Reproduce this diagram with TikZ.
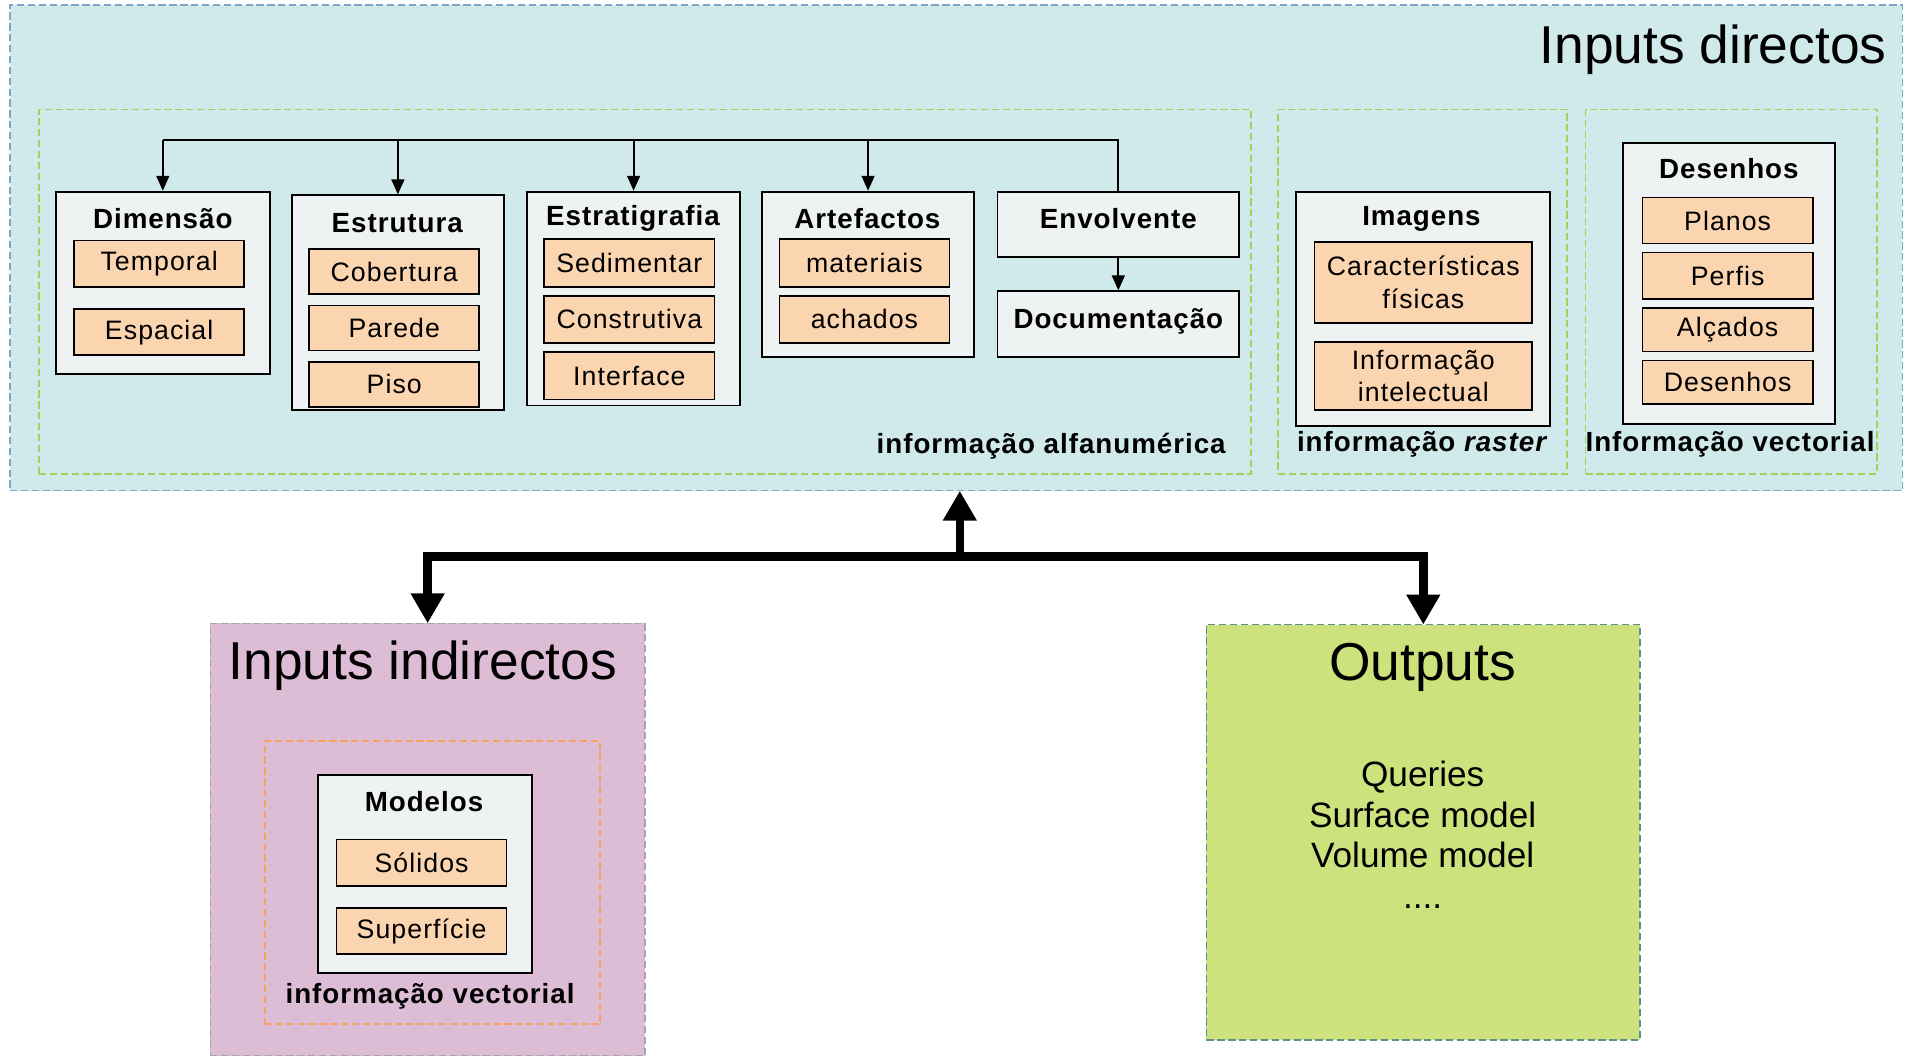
\documentclass[tikz,border=0pt]{standalone}
\usepackage{fontspec}
\setmainfont{Liberation Sans}
\newfontfamily\itemfont[LetterSpace=4]{Liberation Sans}
\newfontfamily\headfont[LetterSpace=3.5]{Liberation Sans}
\usetikzlibrary{chains,positioning,arrows.meta}
\definecolor{panelcyan}{HTML}{D0EAEB}
\definecolor{bordblue}{HTML}{7FA8C8}
\definecolor{dashgreen}{HTML}{A8CF5A}
\definecolor{groupfill}{HTML}{EEF2F2}
\definecolor{itempeach}{HTML}{FAD5B0}
\definecolor{panelpink}{HTML}{DDBDD6}
\definecolor{dashorange}{HTML}{F4A460}
\definecolor{outgreen}{HTML}{CDE27C}
\definecolor{outborder}{HTML}{5E8F8A}

\begin{document}
\begin{tikzpicture}[x=0.02cm,y=-0.02cm]
            \edef\itemwidth{2.8cm}
            \tikzstyle{panel}=[draw=bordblue,fill=panelcyan,dash pattern=on 3.4pt off 1.7pt,line width=0.6pt,inner sep=0pt,outer sep=0pt]
            \tikzstyle{subpanel}=[draw=dashgreen,dash pattern=on 3.4pt off 1.7pt,line width=0.8pt,inner sep=0pt]
            \tikzstyle{groupbox}=[draw,fill=groupfill,line width=0.9pt,anchor=north,inner sep=0pt]
            \tikzstyle{item}=[draw,fill=itempeach,line width=0.8pt,minimum width=\itemwidth,minimum height=0.76cm,inner sep=0pt,align=center,font=\itemfont\fontsize{12.5}{15.3}\selectfont]
            \tikzstyle{head}=[font=\headfont\bfseries\fontsize{13}{15}\selectfont]
            \tikzstyle{bigtitle}=[font=\fontsize{25}{30}\selectfont]
            \tikzstyle{thinarrow}=[-{Triangle[length=7pt,width=6pt]},line width=0.9pt]
            \tikzstyle{fatarrow}=[-{Triangle[length=14pt,width=15pt]},line width=4pt]

            \useasboundingbox (0,0) rectangle (1568,869);

            \node [panel,minimum width=31.16cm,minimum height=8cm] (dirpanel) at (787,204) {};
            \node [bigtitle,anchor=east] (dirtitle) at (1559,41) {Inputs directos};
            \node [subpanel,minimum width=19.96cm,minimum height=6cm] (alfapanel) at (531,240) {};
            \node [subpanel,minimum width=4.76cm,minimum height=6cm] (rastpanel) at (1171,240) {};
            \node [subpanel,minimum width=4.8cm,minimum height=6cm] (vectpanel) at (1425,240) {};

            \node [groupbox,minimum width=3.52cm,minimum height=3cm] (dim) at (134,157) {};
            \node [groupbox,minimum width=3.5cm,minimum height=3.54cm] (str) at (327.5,160) {};
            \node [groupbox,minimum width=3.5cm,minimum height=3.52cm] (est) at (521.5,157) {};
            \node [groupbox,minimum width=3.5cm,minimum height=2.72cm] (art) at (714.5,157) {};
            \node [groupbox,minimum width=3.98cm,minimum height=1.08cm,text depth=0.2cm,head] (env) at (920.5,157) {Envolvente};
            \node [groupbox,minimum width=3.98cm,minimum height=1.08cm,text depth=0.2cm,head] (doc) at (920.5,239) {Documentação};
            \node [groupbox,minimum width=4.18cm,minimum height=3.86cm] (img) at (1171.5,157) {};
            \node [groupbox,minimum width=3.48cm,minimum height=4.62cm] (des) at (1423,117) {};

            \node [head] (dimtitle) at (134,180) {Dimensão};
            \node [head] (strtitle) at (327,184) {Estrutura};
            \node [head] (esttitle) at (521,180) {Estratigrafia};
            \node [head] (arttitle) at (714,180) {Artefactos};
            \node [head] (imgtitle) at (1170,180) {Imagens};
            \node [head] (destitle) at (1423,139) {Desenhos};

            \begin{scope}[start chain=1 going below,node distance=0.34cm]
                \node [on chain=1,item] (temporal) at (131,217) {Temporal};
                \node [on chain=1,item] (espacial) {Espacial};
            \end{scope}
            \begin{scope}[start chain=2 going below,node distance=0.16cm]
                \node [on chain=2,item,minimum height=0.74cm] (cobertura) at (324.5,223.5) {Cobertura};
                \node [on chain=2,item,minimum height=0.74cm] (parede) {Parede};
                \node [on chain=2,item,minimum height=0.74cm] (piso) {Piso};
            \end{scope}
            \begin{scope}[start chain=3 going below,node distance=0.12cm]
                \node [on chain=3,item,minimum height=0.78cm] (sedimentar) at (518,216.5) {Sedimentar};
                \node [on chain=3,item,minimum height=0.78cm] (construtiva) {Construtiva};
                \node [on chain=3,item,minimum height=0.78cm] (interface) {Interface};
            \end{scope}
            \begin{scope}[start chain=4 going below,node distance=0.12cm]
                \node [on chain=4,item,minimum height=0.78cm] (materiais) at (711.5,216.5) {materiais};
                \node [on chain=4,item,minimum height=0.78cm] (achados) {achados};
            \end{scope}
            \begin{scope}[start chain=5 going below,node distance=0.28cm]
                \node [on chain=5,item,minimum width=3.58cm,minimum height=1.34cm] (fisicas) at (1171.5,232.5) {Características\\físicas};
                \node [on chain=5,item,minimum width=3.58cm,minimum height=1.12cm] (intelectual) {Informação\\intelectual};
            \end{scope}
            \begin{scope}[start chain=6 going below,node distance=0.12cm]
                \node [on chain=6,item,minimum height=0.76cm] (planos) at (1422,181.5) {Planos};
                \node [on chain=6,item,minimum height=0.76cm] (perfis) {Perfis};
                \node [on chain=6,item,minimum height=0.72cm] (alcados) {Alçados};
                \node [on chain=6,item,minimum height=0.72cm] (desenhos) {Desenhos};
            \end{scope}

            \node [head,anchor=east] (alfalabel) at (1015,367) {informação alfanumérica};
            \node [head] (rastlabel) at (1171,366) {informação \textit{raster}};
            \node [head] (vectlabel) at (1424,366) {Informação vectorial};

            \coordinate (busL) at (134,115);
            \draw [line width=0.9pt] (env.north) |- (busL);
            \draw [thinarrow] (busL) -- (dim.north);
            \draw [thinarrow] (str.north |- busL) -- (str.north);
            \draw [thinarrow] (est.north |- busL) -- (est.north);
            \draw [thinarrow] (art.north |- busL) -- (art.north);
            \draw [thinarrow] (env.south) -- (doc.north);

            \node [panel,draw=gray!70,fill=panelpink,minimum width=7.16cm,minimum height=7.12cm] (indpanel) at (352,691) {};
            \node [bigtitle] (indtitle) at (348,548) {Inputs indirectos};
            \node [subpanel,draw=dashorange,minimum width=5.52cm,minimum height=4.66cm] (modpanel) at (356,726.5) {};
            \node [groupbox,minimum width=3.52cm,minimum height=3.26cm] (mod) at (350,637) {};
            \node [head] (modtitle) at (349,660) {Modelos};
            \begin{scope}[start chain=7 going below,node distance=0.34cm]
                \node [on chain=7,item] (solidos) at (347,710) {Sólidos};
                \node [on chain=7,item] (superficie) {Superfície};
            \end{scope}
            \node [head] (modlabel) at (354,820) {informação vectorial};

            \node [panel,draw=outborder,fill=outgreen,minimum width=7.14cm,minimum height=6.84cm] (outpanel) at (1171.5,685) {};
            \node [bigtitle] (outtitle) at (1171,549) {Outputs};
            \node [align=center,font=\fontsize{16.5}{19}\selectfont] (outlist) at (1171,687) {Queries\\Surface model\\Volume model\\....};

            \coordinate (hub) at (790,458);
            \draw [fatarrow] (hub) -- (dirpanel.south -| hub);
            \draw [fatarrow] (hub) -| (indpanel.north);
            \draw [fatarrow] (hub) -| (outpanel.north);
        \end{tikzpicture}
\end{document}
